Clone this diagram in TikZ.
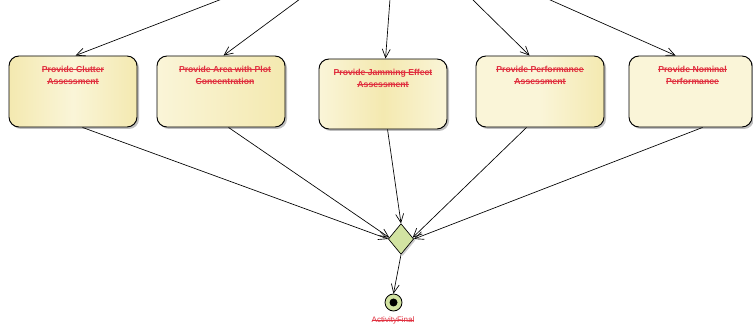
\documentclass[tikz,border=0pt]{standalone}
\usepackage{fontspec}
\setmainfont{Liberation Sans}
\usetikzlibrary{arrows.meta,shapes.geometric,shadows}
\newcommand\mysout[1]{\leavevmode\setbox0\hbox{#1}\rlap{\rule[0.3em]{\wd0}{0.45pt}}\box0}
\definecolor{strk}{HTML}{E0303F}
\definecolor{boxA}{HTML}{F4E9B0}
\definecolor{boxB}{HTML}{FAF5D8}
\definecolor{dgreen}{HTML}{D2E3A2}
\tikzset{
  actbox/.style={draw=black, line width=0.7pt, rounded corners=7.5pt, minimum width=96pt, minimum height=53.25pt, inner sep=0pt,
    drop shadow={shadow xshift=1.5pt, shadow yshift=-1.5pt, opacity=0.25, fill=black}},
  lbl/.style={text=strk, font=\fontsize{6.5pt}{9pt}\selectfont\bfseries, align=center, inner sep=0pt, anchor=north},
  arr/.style={-{Straight Barb[length=6.5pt,width=6pt]}, line width=0.5pt},
}
\begin{document}
\begin{tikzpicture}[x=0.75pt,y=-0.75pt]
\useasboundingbox (0,0) rectangle (753,331);
% boxes
\node[actbox, left color=boxA, right color=boxA, middle color=boxB] (b1) at (73,91.5) {};
\node[actbox, left color=boxB, right color=boxA] (b2) at (221,91.5) {};
\node[actbox, left color=boxB, right color=boxB, middle color=boxA, minimum height=52.5pt] (b3) at (383,94) {};
\node[actbox, left color=boxB, right color=boxA, middle color=boxB] (b4) at (540,91.5) {};
\node[actbox, left color=boxB, right color=boxB, minimum width=92.25pt] (b5) at (690.5,91.5) {};
% labels
\node[lbl] (t1) at ([yshift=-7.5pt]b1.north) {\mysout{Provide Clutter}\\\mysout{Assessment}};
\node[lbl] (t2) at ([yshift=-7.5pt,xshift=3pt]b2.north) {\mysout{Provide Area with Plot}\\\mysout{Concentration}};
\node[lbl] (t3) at ([yshift=-7.5pt]b3.north) {\mysout{Provide Jamming Effect}\\\mysout{Assessment}};
\node[lbl] (t4) at ([yshift=-7.5pt]b4.north) {\mysout{Provide Performance}\\\mysout{Assessment}};
\node[lbl] (t5) at ([yshift=-7.5pt,xshift=1.5pt]b5.north) {\mysout{Provide Nominal}\\\mysout{Performance}};
% decision and final
\node[draw=black, line width=0.5pt, fill=dgreen, shape=diamond, minimum width=19pt, minimum height=23pt, inner sep=0pt,
  drop shadow={shadow xshift=1.2pt, shadow yshift=-1.2pt, opacity=0.2, fill=black}] (d) at (401,239) {};
\node[draw=black, line width=0.6pt, fill=dgreen, circle, minimum size=12.75pt, inner sep=0pt] (f) at (393.5,302.5) {};
\node[fill=black, circle, minimum size=6pt, inner sep=0pt] (fd) at (f.center) {};
\node[text=strk, font=\fontsize{6pt}{7pt}\selectfont, inner sep=0pt] (fl) at (393,320.5) {\mysout{ActivityFinal}};
% incoming free ends
\coordinate (s1) at (222,-1);
\coordinate (s2) at (300,-1);
\coordinate (s3) at (390,-1);
\coordinate (s4) at (472,-1);
\coordinate (s5) at (548,-1);
\draw[arr] (s1) -- ([xshift=50.25pt]b1.north west);
\draw[arr] (s2) -- ([xshift=50.25pt]b2.north west);
\draw[arr] (s3) -- ([xshift=50.25pt]b3.north west);
\draw[arr] (s4) -- ([xshift=40.5pt]b4.north west);
\draw[arr] (s5) -- ([xshift=35.25pt]b5.north west);
% to decision
\draw[arr] ([xshift=55.5pt]b1.south west) -- (d.west);
\draw[arr] ([xshift=54pt]b2.south west) -- ([xshift=1pt,yshift=1pt]d.west);
\draw[arr] ([xshift=51.75pt]b3.south west) -- (d.north);
\draw[arr] ([xshift=38.25pt]b4.south west) -- ([xshift=-1pt,yshift=1pt]d.east);
\draw[arr] ([xshift=55.5pt]b5.south west) -- (d.east);
\draw[arr] (d.south) -- (f.north);
\end{tikzpicture}
\end{document}
